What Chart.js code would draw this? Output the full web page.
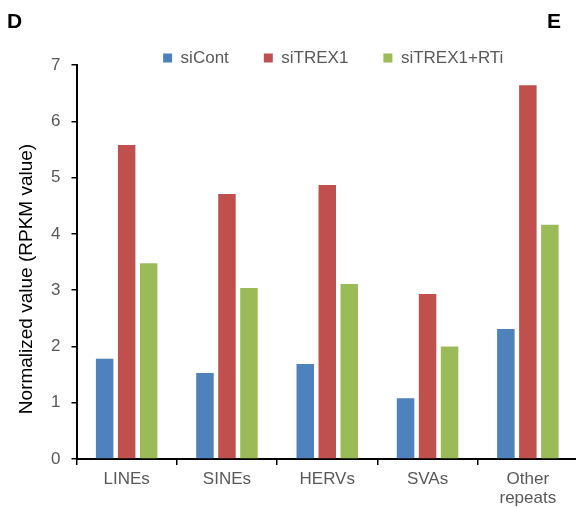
<!DOCTYPE html>
<html>
<head>
<meta charset="utf-8">
<script src="https://cdn.jsdelivr.net/npm/chart.js@4.4.1/dist/chart.umd.min.js"></script>
<style>
  html, body { margin: 0; padding: 0; background: #fff; overflow: hidden; }
  #wrap { position: absolute; left: 0; top: 0; width: 600px; height: 507px; }
</style>
</head>
<body>
<div id="wrap"><canvas id="c"></canvas></div>
<script>
const categories = ['LINEs', 'SINEs', 'HERVs', 'SVAs', ['Other', 'repeats']];
const seriesNames = ['siCont', 'siTREX1', 'siTREX1+RTi'];
const siCont = [1.78, 1.53, 1.69, 1.08, 2.31];
const siTREX1 = [5.58, 4.71, 4.87, 2.93, 6.64];
const siTREX1RTi = [3.48, 3.04, 3.11, 2.00, 4.16];
const yTicks = [0, 1, 2, 3, 4, 5, 6, 7];
const yTitle = 'Normalized value (RPKM value)';
const panelLabels = ['D', 'E'];

const FONT = "'Liberation Sans', Arial, sans-serif";
const colors = ['#4F81BD', '#C0504D', '#9BBB59'];

const layoutTweaks = {
  id: 'layoutTweaks',
  afterLayout(chart) {
    const l = chart.legend;
    const dx = 6, dy = 11.5;
    l.left += dx; l.right += dx;
    l.top += dy; l.bottom += dy;
    const ys = chart.scales.y;
    if (!ys._titleWrapped) {
      const orig = ys.drawTitle;
      ys.drawTitle = function () {
        const ctx = this.ctx;
        ctx.save();
        ctx.translate(0, 17);
        orig.apply(this, arguments);
        ctx.restore();
      };
      ys._titleWrapped = true;
    }
  }
};

const panelLetters = {
  id: 'panelLetters',
  afterDraw(chart) {
    const ctx = chart.ctx;
    ctx.save();
    ctx.fillStyle = '#000';
    ctx.font = "bold 21px " + FONT;
    ctx.textBaseline = 'alphabetic';
    ctx.textAlign = 'left';
    ctx.fillText(panelLabels[0], 7, 28);
    ctx.fillText(panelLabels[1], 547, 28);
    ctx.restore();
  }
};

new Chart(document.getElementById('c'), {
  type: 'bar',
  data: {
    labels: categories,
    datasets: [
      { label: seriesNames[0], data: siCont, backgroundColor: colors[0] },
      { label: seriesNames[1], data: siTREX1, backgroundColor: colors[1] },
      { label: seriesNames[2], data: siTREX1RTi, backgroundColor: colors[2] }
    ]
  },
  options: {
    responsive: true,
    maintainAspectRatio: false,
    animation: false,
    layout: { padding: { top: 3, right: 22, bottom: 0, left: 0 } },
    datasets: { bar: { categoryPercentage: 0.658, barPercentage: 0.795 } },
    plugins: {
      tooltip: { enabled: false },
      legend: {
        position: 'top',
        fullSize: false,
        align: 'center',
        labels: {
          boxWidth: 9,
          boxHeight: 9,
          padding: 35,
          color: '#595959',
          font: { family: FONT, size: 17 }
        }
      }
    },
    scales: {
      x: {
        afterFit(scale) { scale.height = 48; },
        grid: { display: true, drawOnChartArea: false, drawTicks: true, tickLength: 6, color: '#000', lineWidth: 1.5, offset: true },
        border: { display: true, color: '#000', width: 2 },
        ticks: { color: '#595959', padding: 5, font: { family: FONT, size: 17, lineHeight: 1.12 }, maxRotation: 0, autoSkip: false }
      },
      y: {
        min: 0,
        max: 7,
        afterFit(scale) { scale.width = 76.5; },
        afterBuildTicks(scale) { scale.ticks = yTicks.map(v => ({ value: v })); },
        grid: { display: true, drawOnChartArea: false, drawTicks: true, tickLength: 5, color: '#000', lineWidth: 1.5 },
        border: { display: true, color: '#000', width: 2 },
        ticks: { color: '#595959', padding: 11, font: { family: FONT, size: 17 } },
        title: { display: true, text: yTitle, color: '#000', padding: { top: 15, bottom: 0 }, font: { family: FONT, size: 19 } }
      }
    }
  },
  plugins: [layoutTweaks, panelLetters]
});
</script>
</body>
</html>
